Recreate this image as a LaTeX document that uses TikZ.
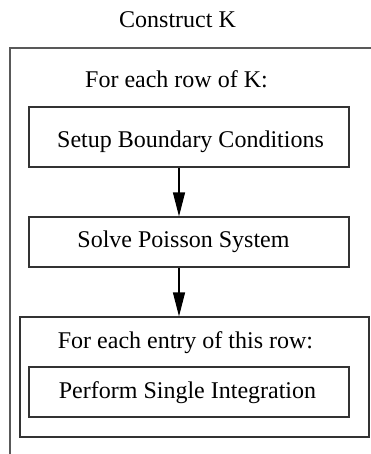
\documentclass[tikz,border=0pt]{standalone}
\usepackage{fontspec}
\setmainfont{Liberation Serif}
\usetikzlibrary{arrows.meta}
\begin{document}
\begin{tikzpicture}[x=1pt,y=-1pt,
  every node/.style={inner sep=0pt},
  lbl/.style={font=\fontsize{24}{28}\selectfont, anchor=base},
  box/.style={draw=black!80, line width=1.2pt, rectangle},
  frame/.style={draw=black!65, line width=1.2pt},
  arr/.style={draw=black, line width=1.2pt, -{Triangle[length=24pt,width=12pt]}}]
  \useasboundingbox (0,0) rectangle (371,454);

  % outer "Construct K" frame: top edge and left edge only
  \coordinate (fc) at (10,48);
  \coordinate (fr) at (371,48);
  \coordinate (fb) at (10,454);
  \draw[frame] (fr) -- (fc) -- (fb);
  \node[lbl] (title) at (177.5,28) {Construct K};
  \node[lbl] (rowlbl) at (176.5,88) {For each row of K:};

  % steps
  \node[box, minimum width=320pt, minimum height=60pt] (setup) at (189,137) {};
  \node[lbl] (setuptxt) at (190.5,148) {Setup Boundary Conditions};
  \node[box, minimum width=320pt, minimum height=50pt] (solve) at (189,242) {};
  \node[lbl] (solvetxt) at (183.5,247) {Solve Poisson System};

  % inner loop frame
  \node[box, minimum width=349pt, minimum height=120pt] (loop) at (194.5,377) {};
  \node[lbl] (entrylbl) at (185.5,348) {For each entry of this row:};
  \node[box, minimum width=320pt, minimum height=50pt] (integ) at (189,392) {};
  \node[lbl] (integtxt) at (187.5,398) {Perform Single Integration};

  % flow arrows
  \coordinate (ax) at (179,0);
  \draw[arr] (setup.south -| ax) -- (solve.north -| ax);
  \draw[arr] (solve.south -| ax) -- (loop.north -| ax);
\end{tikzpicture}
\end{document}
